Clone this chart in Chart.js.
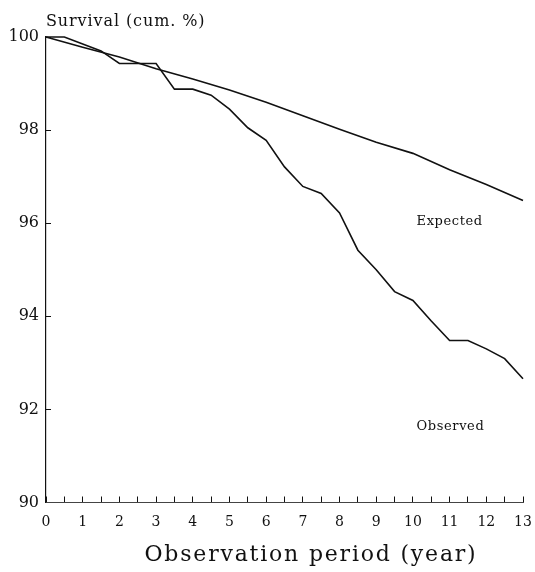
<!DOCTYPE html>
<html>
<head>
<meta charset="utf-8">
<script src="https://cdn.jsdelivr.net/npm/chart.js@4/dist/chart.umd.min.js"></script>
<style>
  html, body { margin: 0; padding: 0; background: #fff; }
  #wrap { width: 535px; height: 572px; }
</style>
</head>
<body>
<div id="wrap"><canvas id="survChart"></canvas></div>
<script>
// Observed survival, every half year
const obsYears = [0, 0.5, 1, 1.5, 2, 2.5, 3, 3.5, 4, 4.5, 5, 5.5, 6, 6.5, 7, 7.5, 8, 8.5, 9, 9.5, 10, 10.5, 11, 11.5, 12, 12.5, 13];
const obsValues = [100, 100, 99.85, 99.7, 99.43, 99.43, 99.43, 98.88, 98.88, 98.75, 98.45, 98.05, 97.78, 97.21, 96.79, 96.64, 96.22, 95.42, 95.0, 94.53, 94.34, 93.9, 93.48, 93.48, 93.3, 93.09, 92.66];

// Expected survival, one point a year
const expYears = [0, 1, 2, 3, 4, 5, 6, 7, 8, 9, 10, 11, 12, 13];
const expValues = [100, 99.78, 99.57, 99.32, 99.1, 98.86, 98.6, 98.31, 98.02, 97.74, 97.5, 97.15, 96.83, 96.49];

const yTicks = [90, 92, 94, 96, 98, 100];

// curve labels, placed in data units
const curveLabels = ["Expected", "Observed"];
const labelYears = [10.1, 10.1];
const labelValues = [96.03, 91.63];

const SERIF = "'DejaVu Serif', serif";
const INK = "#111";

function toPoints(xs, ys) {
    return xs.map((x, i) => ({ x: x, y: ys[i] }));
}

// extra texts: top axis caption, x axis title, curve labels
const textPlugin = {
    id: "texts",
    afterDraw(chart) {
        const ctx = chart.ctx;
        const area = chart.chartArea;
        const xs = chart.scales.x;
        const ys = chart.scales.y;

        ctx.save();
        ctx.fillStyle = INK;
        ctx.textBaseline = "middle";

        ctx.font = "16px " + SERIF;
        ctx.letterSpacing = "0.9px";
        ctx.textAlign = "left";
        ctx.fillText("Survival (cum. %)", area.left, 22);

        ctx.font = "22px " + SERIF;
        ctx.letterSpacing = "1.8px";
        ctx.textAlign = "center";
        ctx.fillText("Observation period (year)", 311, 555);

        ctx.font = "13px " + SERIF;
        ctx.letterSpacing = "0.6px";
        ctx.textAlign = "left";
        curveLabels.forEach((t, i) => {
            ctx.fillText(t, xs.getPixelForValue(labelYears[i]), ys.getPixelForValue(labelValues[i]));
        });
        ctx.restore();
    }
};

const chart = new Chart(document.getElementById("survChart").getContext("2d"), {
    type: "line",
    data: {
        datasets: [{
            label: "Observed",
            data: toPoints(obsYears, obsValues),
            borderColor: INK,
            borderWidth: 1.6,
            pointRadius: 0,
            tension: 0,
            clip: false
        }, {
            label: "Expected",
            data: toPoints(expYears, expValues),
            borderColor: INK,
            borderWidth: 1.6,
            pointRadius: 0,
            tension: 0,
            clip: false
        }]
    },
    options: {
        responsive: true,
        maintainAspectRatio: false,
        animation: false,
        layout: {
            padding: { top: 37, right: 12, left: 0, bottom: 0 }
        },
        scales: {
            x: {
                type: "linear",
                min: 0,
                max: 13,
                afterFit(scale) {
                    scale.height = 69.5;
                    scale.paddingLeft = 0;
                    scale.paddingRight = 0;
                },
                border: { color: "#444", width: 1 },
                grid: {
                    drawOnChartArea: false,
                    drawTicks: true,
                    tickLength: -6,
                    color: INK
                },
                ticks: {
                    stepSize: 0.5,
                    autoSkip: false,
                    maxRotation: 0,
                    padding: 17,
                    color: INK,
                    font: { family: SERIF, size: 14 },
                    callback: v => (v % 1 === 0 ? String(v) : "")
                }
            },
            y: {
                min: 90,
                max: 100,
                afterFit(scale) {
                    scale.width = 46;
                    scale.paddingTop = 0;
                    scale.paddingBottom = 0;
                },
                afterBuildTicks(scale) {
                    scale.ticks = yTicks.map(v => ({ value: v }));
                },
                border: { color: INK, width: 1.2 },
                grid: {
                    drawOnChartArea: false,
                    drawTicks: true,
                    tickLength: -5,
                    color: INK
                },
                ticks: {
                    padding: 12,
                    color: INK,
                    font: { family: SERIF, size: 16 }
                }
            }
        },
        plugins: {
            legend: { display: false },
            tooltip: { enabled: false }
        }
    },
    plugins: [textPlugin]
});
</script>
</body>
</html>
